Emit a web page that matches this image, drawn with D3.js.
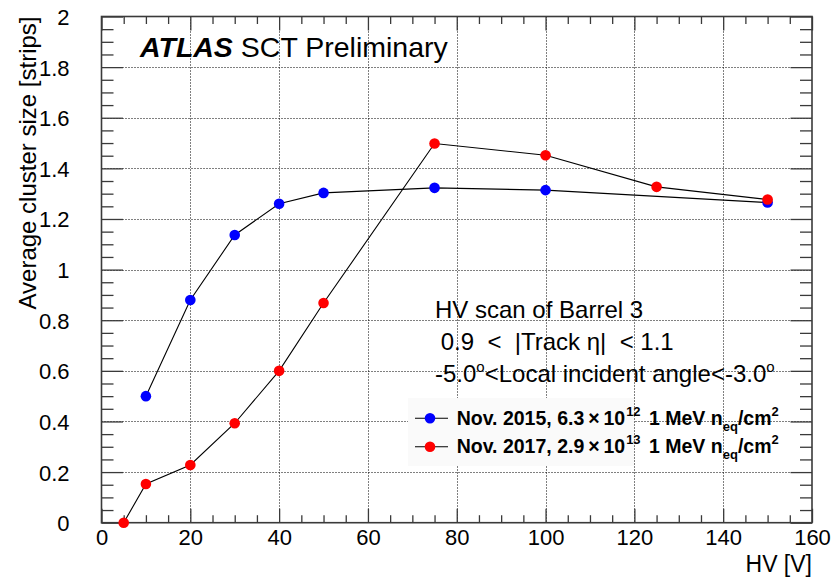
<!DOCTYPE html>
<html>
<head>
<meta charset="utf-8">
<script src="https://cdn.jsdelivr.net/npm/d3@7"></script>
<style>
  html, body { margin: 0; padding: 0; background: #fff; }
  svg { display: block; font-family: "Liberation Sans", Arial, Helvetica, sans-serif; }
</style>
</head>
<body>
<svg id="chart" width="831" height="578"></svg>
<script>
// HV scan measurements: average cluster size vs bias voltage
const hv2015 = [10, 20, 30, 40, 50, 75, 100, 150];
const size2015 = [0.50, 0.88, 1.137, 1.26, 1.303, 1.323, 1.314, 1.265];
const hv2017 = [5, 10, 20, 30, 40, 50, 75, 100, 125, 150];
const size2017 = [0.0, 0.153, 0.228, 0.393, 0.60, 0.868, 1.498, 1.452, 1.327, 1.277];

const xMajorTicks = [0, 20, 40, 60, 80, 100, 120, 140, 160];
const yMajorTicks = [0, 0.2, 0.4, 0.6, 0.8, 1, 1.2, 1.4, 1.6, 1.8, 2];
const xTickLabels = ["0", "20", "40", "60", "80", "100", "120", "140", "160"];
const yTickLabels = ["0", "0.2", "0.4", "0.6", "0.8", "1", "1.2", "1.4", "1.6", "1.8", "2"];

const seriesNames = ["2015", "2017"];
const seriesColors = ["#0000ff", "#ff0000"];

const svg = d3.select("#chart");
const frame = { left: 101.5, right: 812, top: 16.5, bottom: 522.7 };

const x = d3.scaleLinear().domain([0, 160]).range([frame.left, frame.right]);
const y = d3.scaleLinear().domain([0, 2]).range([frame.bottom, frame.top]);

const xMinor = d3.range(0, 161, 5).filter(v => v % 20 !== 0);
const yMinor = d3.range(0, 41, 1).map(v => v * 0.05).filter(v => Math.abs(v / 0.2 - Math.round(v / 0.2)) > 1e-6);

// dotted grid at major ticks
const grid = svg.append("g").attr("stroke", "#000").attr("stroke-width", 1)
  .attr("stroke-dasharray", "1,2").attr("fill", "none");
grid.selectAll("line.gx").data(xMajorTicks.slice(1, -1)).join("line")
  .attr("x1", d => Math.round(x(d)) + 0.5).attr("x2", d => Math.round(x(d)) + 0.5)
  .attr("y1", frame.top).attr("y2", frame.bottom);
grid.selectAll("line.gy").data(yMajorTicks.slice(1, -1)).join("line")
  .attr("y1", d => Math.round(y(d)) + 0.5).attr("y2", d => Math.round(y(d)) + 0.5)
  .attr("x1", frame.left).attr("x2", frame.right);

// axes with ROOT-style ticks on all four sides
const axisColor = "#3a3a3a";
function styleAxis(g) {
  g.select(".domain").remove();
  g.selectAll("line").attr("stroke", axisColor).attr("stroke-width", 1.3);
}
const bottomMajor = d3.axisBottom(x).tickValues(xMajorTicks).tickSize(-14).tickFormat((d, i) => xTickLabels[i]).tickPadding(16);
const bottomMinor = d3.axisBottom(x).tickValues(xMinor).tickSize(-7.5).tickFormat("");
const topMajor = d3.axisTop(x).tickValues(xMajorTicks).tickSize(-14).tickFormat("");
const topMinor = d3.axisTop(x).tickValues(xMinor).tickSize(-7.5).tickFormat("");
const leftMajor = d3.axisLeft(y).tickValues(yMajorTicks).tickSize(-21.5).tickFormat((d, i) => yTickLabels[i]).tickPadding(32);
const leftMinor = d3.axisLeft(y).tickValues(yMinor).tickSize(-12).tickFormat("");
const rightMajor = d3.axisRight(y).tickValues(yMajorTicks).tickSize(-21.5).tickFormat("");
const rightMinor = d3.axisRight(y).tickValues(yMinor).tickSize(-12).tickFormat("");

const gb = svg.append("g").attr("transform", `translate(0,${frame.bottom})`);
gb.append("g").call(bottomMajor).call(styleAxis);
gb.append("g").call(bottomMinor).call(styleAxis);
const gt = svg.append("g").attr("transform", `translate(0,${frame.top})`);
gt.append("g").call(topMajor).call(styleAxis);
gt.append("g").call(topMinor).call(styleAxis);
const gl = svg.append("g").attr("transform", `translate(${frame.left},0)`);
gl.append("g").call(leftMajor).call(styleAxis);
gl.append("g").call(leftMinor).call(styleAxis);
const gr = svg.append("g").attr("transform", `translate(${frame.right},0)`);
gr.append("g").call(rightMajor).call(styleAxis);
gr.append("g").call(rightMinor).call(styleAxis);

svg.selectAll(".tick text").attr("font-family", "Liberation Sans, Arial, sans-serif")
  .attr("font-size", 22).attr("fill", "#000");
gb.selectAll(".tick text").attr("dy", "0.3em");
gl.selectAll(".tick text").attr("dy", "0.36em");

// frame
svg.append("rect")
  .attr("x", frame.left).attr("y", frame.top)
  .attr("width", frame.right - frame.left).attr("height", frame.bottom - frame.top)
  .attr("fill", "none").attr("stroke", axisColor).attr("stroke-width", 1.6);

// axis titles
svg.append("text").attr("x", frame.right).attr("y", 572)
  .attr("text-anchor", "end").attr("font-size", 23).text("HV [V]");
svg.append("text").attr("transform", `translate(36,${frame.top}) rotate(-90)`)
  .attr("text-anchor", "end").attr("font-size", 24).text("Average cluster size [strips]");

// legend backdrop
svg.append("rect").attr("x", 408).attr("y", 398).attr("width", 226).attr("height", 68)
  .attr("fill", "#fafafa");

// data lines and markers
const line = d3.line().x(d => x(d[0])).y(d => y(d[1]));
const series = [
  d3.zip(hv2015, size2015),
  d3.zip(hv2017, size2017)
];
series.forEach((pts, i) => {
  svg.append("path").datum(pts).attr("d", line)
    .attr("fill", "none").attr("stroke", "#000").attr("stroke-width", 1.1);
});
series.forEach((pts, i) => {
  svg.append("g").selectAll("circle").data(pts).join("circle")
    .attr("cx", d => x(d[0])).attr("cy", d => y(d[1])).attr("r", 5.3)
    .attr("fill", seriesColors[i]);
});

// labels
const title = svg.append("text").attr("x", 140).attr("y", 57).attr("font-size", 28.5);
title.append("tspan").attr("font-weight", "bold").attr("font-style", "italic").text("ATLAS");
title.append("tspan").text(" SCT Preliminary");

svg.append("text").attr("x", 435).attr("y", 318).attr("font-size", 24).text("HV scan of Barrel 3");
svg.append("text").attr("x", 440.7).attr("y", 350).attr("font-size", 24)
  .attr("xml:space", "preserve").style("white-space", "pre")
  .text("0.9  <  |Track \u03B7|  < 1.1");
const ang = svg.append("text").attr("x", 435).attr("y", 381.7).attr("font-size", 24);
ang.append("tspan").text("-5.0");
ang.append("tspan").attr("font-size", 15).attr("dy", -10).text("o");
ang.append("tspan").attr("dy", 10).text("<Local incident angle<-3.0");
ang.append("tspan").attr("font-size", 15).attr("dy", -10).text("o");

// legend entries
const legendRows = [
  { cy: 418.3, base: 424.5, dens: "6.3", exp: "12" },
  { cy: 446.7, base: 452.5, dens: "2.9", exp: "13" }
];
legendRows.forEach((r, i) => {
  svg.append("line").attr("x1", 415).attr("x2", 448).attr("y1", r.cy).attr("y2", r.cy)
    .attr("stroke", "#000").attr("stroke-width", 1.1);
  svg.append("circle").attr("cx", 430).attr("cy", r.cy).attr("r", 5.3).attr("fill", seriesColors[i]);
  const t = svg.append("text").attr("x", 456.7).attr("y", r.base)
    .attr("font-size", 19.5).attr("font-weight", "bold").style("white-space", "pre");
  t.append("tspan").text(`Nov. ${seriesNames[i]}, ${r.dens}\u2009\u00D7\u200910`);
  t.append("tspan").attr("font-size", 13).attr("dx", 1).attr("dy", -9).text(r.exp);
  t.append("tspan").attr("dx", 3).attr("dy", 9).text(" 1 MeV n");
  t.append("tspan").attr("font-size", 13).attr("dy", 6).text("eq");
  t.append("tspan").attr("dy", -6).text("/cm");
  t.append("tspan").attr("font-size", 13).attr("dy", -9).text("2");
});
</script>
</body>
</html>
